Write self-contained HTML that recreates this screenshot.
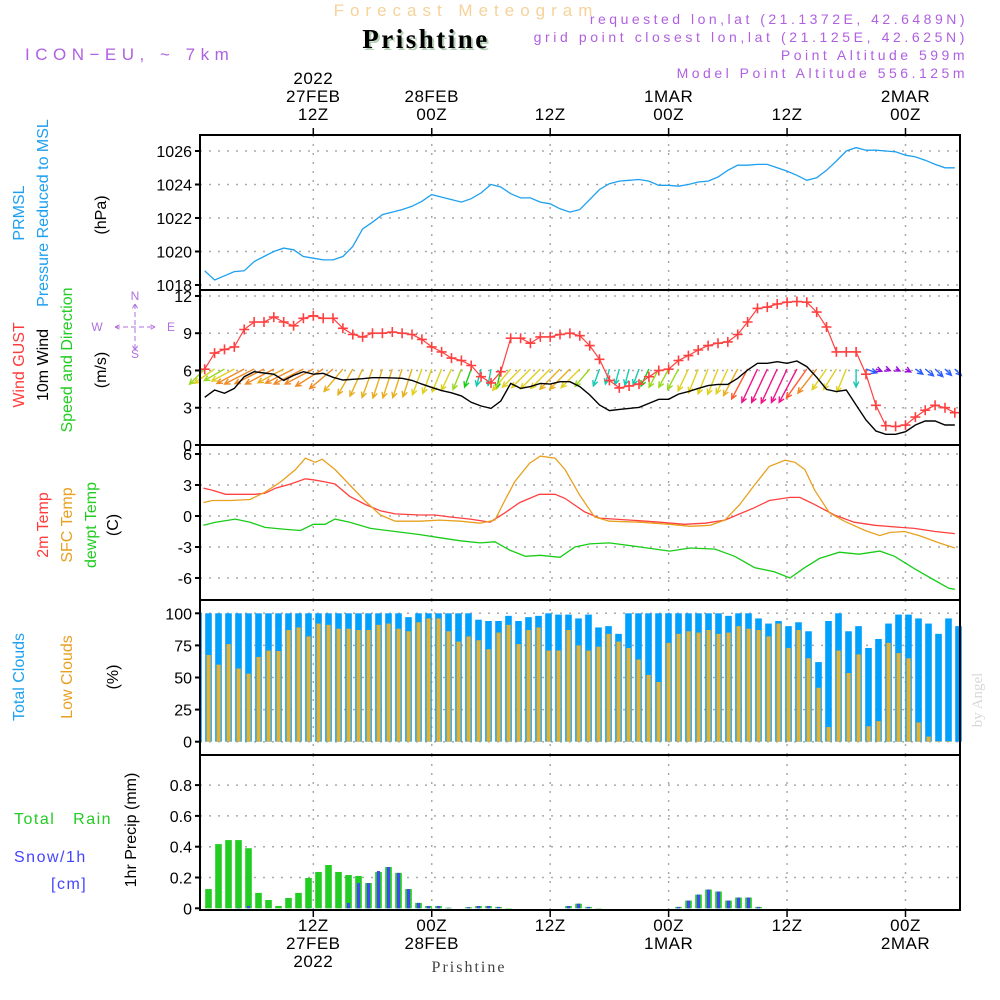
<!DOCTYPE html>
<html><head><meta charset="utf-8"><title>Meteogram Prishtine</title>
<style>
html,body{margin:0;padding:0;background:#fff;}
svg{display:block;font-family:"Liberation Sans",sans-serif;}
</style></head>
<body>
<svg id="chart" width="1000" height="1000" viewBox="0 0 1000 1000" xmlns="http://www.w3.org/2000/svg">
<rect x="0" y="0" width="1000" height="1000" fill="#fff"/>
<g>
<text x="466" y="16" text-anchor="middle" font-size="17" letter-spacing="6" fill="#f5d39a">Forecast Meteogram</text>
<text x="428" y="50" text-anchor="middle" font-size="27" font-weight="bold" letter-spacing="2.5" font-family="Liberation Serif,serif" fill="#b8d0b8">Prishtine</text>
<text x="426" y="48" text-anchor="middle" font-size="27" font-weight="bold" letter-spacing="2.5" font-family="Liberation Serif,serif" fill="#000">Prishtine</text>
<text x="25" y="60" font-size="17" letter-spacing="5.5" fill="#b060e0">ICON−EU, ~ 7km</text>
<text x="968" y="24" text-anchor="end" font-size="14" letter-spacing="3.5" fill="#b060e0">requested lon,lat (21.1372E, 42.6489N)</text>
<text x="968" y="42" text-anchor="end" font-size="14" letter-spacing="3.6" fill="#b060e0">grid point closest lon,lat (21.125E, 42.625N)</text>
<text x="968" y="60" text-anchor="end" font-size="14" letter-spacing="3.5" fill="#b060e0">Point Altitude 599m</text>
<text x="968" y="78" text-anchor="end" font-size="14" letter-spacing="3.5" fill="#b060e0">Model Point Altitude 556.125m</text>
</g>
<g id="grid"></g>
<g id="marks"></g>
<g id="frame"></g>
<g id="labels"></g>
<g font-size="16">
<text transform="translate(24,213) rotate(-90)" text-anchor="middle" fill="#1ea0f0">PRMSL</text>
<text transform="translate(48,213) rotate(-90)" text-anchor="middle" fill="#1ea0f0">Pressure Reduced to MSL</text>
<text transform="translate(106,215) rotate(-90)" text-anchor="middle" fill="#000">(hPa)</text>
<text transform="translate(24,365) rotate(-90)" text-anchor="middle" fill="#ff3b3b">Wind GUST</text>
<text transform="translate(48,365) rotate(-90)" text-anchor="middle" fill="#000">10m Wind</text>
<text transform="translate(72,360) rotate(-90)" text-anchor="middle" fill="#22cc22">Speed and Direction</text>
<text transform="translate(106,370) rotate(-90)" text-anchor="middle" fill="#000">(m/s)</text>
<g fill="#b070e0" font-size="12">
<text x="135" y="300" text-anchor="middle">N</text>
<text x="135" y="358" text-anchor="middle">S</text>
<text x="97" y="331" text-anchor="middle">W</text>
<text x="171" y="331" text-anchor="middle">E</text>
<path d="M115 327H155M115 327l6 -3M115 327l6 3M155 327l-6 -3M155 327l-6 3M135 304V350M135 304l-3 5M135 304l3 5M135 350l-3 -5M135 350l3 -5" stroke="#b070e0" stroke-dasharray="5 3" fill="none"/>
</g>
<text transform="translate(48,525) rotate(-90)" text-anchor="middle" fill="#ff3b3b">2m Temp</text>
<text transform="translate(72,525) rotate(-90)" text-anchor="middle" fill="#e8a020">SFC Temp</text>
<text transform="translate(96,525) rotate(-90)" text-anchor="middle" fill="#22cc22">dewpt Temp</text>
<text transform="translate(118,525) rotate(-90)" text-anchor="middle" fill="#000">(C)</text>
<text transform="translate(24,677) rotate(-90)" text-anchor="middle" fill="#1ea0f0">Total Clouds</text>
<text transform="translate(72,677) rotate(-90)" text-anchor="middle" fill="#e8a020">Low Clouds</text>
<text transform="translate(118,677) rotate(-90)" text-anchor="middle" fill="#000">(%)</text>
<text x="14" y="824" fill="#22cc22" letter-spacing="1.5">Total&#160;&#160;&#160;Rain</text>
<text x="14" y="862" fill="#4444ff" letter-spacing="1.5">Snow/1h</text>
<text x="51" y="889" fill="#4444ff" letter-spacing="1.5">[cm]</text>
<text transform="translate(136,830) rotate(-90)" text-anchor="middle" fill="#000">1hr Precip (mm)</text>
</g>
<text x="469" y="972" text-anchor="middle" font-size="16" letter-spacing="2" font-family="Liberation Serif,serif" fill="#444">Prishtine</text>
<text transform="translate(982,700) rotate(-90)" text-anchor="middle" font-size="15" font-family="Liberation Serif,serif" fill="#d8d8d8">by Angel</text>
</svg>
<script>
// ---------- data ----------
const pressHours = [1,2,3,4,5,6,7,8,9,10,11,12,13,14,15,16,17,18,19,20,21,22,23,24,25,26,27,28,29,30,31,32,33,34,35,36,37,38,39,40,41,42,43,44,45,46,47,48,49,50,51,52,53,54,55,56,57,58,59,60,61,62,63,64,65,66,67,68,69,70,71,72,73,74,75,76,77];
const pressure = [1018.85,1018.3,1018.55,1018.8,1018.85,1019.4,1019.7,1020.0,1020.2,1020.1,1019.7,1019.6,1019.5,1019.5,1019.7,1020.3,1021.35,1021.75,1022.2,1022.35,1022.5,1022.7,1023.0,1023.4,1023.25,1023.1,1022.95,1023.15,1023.5,1024.0,1023.85,1023.45,1023.2,1023.2,1022.95,1022.85,1022.55,1022.35,1022.5,1023.1,1023.7,1024.05,1024.2,1024.25,1024.3,1024.2,1023.95,1023.95,1023.9,1024.0,1024.15,1024.2,1024.45,1024.85,1025.15,1025.15,1025.2,1025.2,1025.0,1024.8,1024.55,1024.25,1024.4,1024.85,1025.4,1026.0,1026.2,1026.05,1026.05,1026.0,1025.95,1025.75,1025.65,1025.45,1025.2,1025.0,1025.0];
const gust = [6.1,7.4,7.7,7.9,9.3,9.9,9.9,10.3,9.9,9.6,10.2,10.4,10.2,10.2,9.4,8.9,8.7,9.0,9.0,9.1,9.0,8.9,8.5,7.9,7.5,7.0,6.8,6.4,5.5,5.0,5.9,8.6,8.6,8.2,8.7,8.7,8.9,9.0,8.8,8.0,6.9,5.2,4.6,4.75,4.9,5.5,6.0,6.1,6.8,7.2,7.65,8.0,8.2,8.3,8.9,9.9,11.0,11.1,11.35,11.5,11.55,11.5,10.7,9.5,7.5,7.5,7.5,5.7,3.2,1.55,1.5,1.6,2.25,2.8,3.2,3.0,2.6];
const wind = [3.84,4.43,4.16,4.56,5.5,5.9,5.8,5.7,5.2,5.6,5.9,5.7,5.77,5.45,5.23,5.29,5.34,5.42,5.42,5.4,5.37,5.2,4.9,4.64,4.38,4.2,3.95,3.44,3.14,2.95,3.54,4.96,4.56,4.7,4.96,4.9,5.1,5.1,4.7,4.03,3.22,2.77,2.87,2.95,3.03,3.35,3.68,3.68,4.1,4.3,4.56,4.78,4.88,4.88,5.37,6.04,6.58,6.58,6.71,6.58,6.76,6.31,5.45,4.48,4.3,4.43,3.22,2.01,1.13,0.86,0.86,1.07,1.61,1.93,1.93,1.61,1.61];
const windDir = [45,55,60,62,62,63,63,62,62,63,63,62,58,50,40,30,25,20,18,18,18,18,20,20,22,25,22,20,15,10,12,40,45,45,45,45,45,45,45,40,20,15,15,15,20,25,28,28,28,25,22,22,22,25,28,28,25,25,25,25,28,35,38,35,32,22,0,290,290,290,295,300,305,310,315,315,315];
const t2Hours = [0.87,1.78,3.1,6.1,7.1,8.2,9.7,11.2,12,13.2,14.2,15.7,17.3,18.8,20.3,22.8,24.3,25.9,27.9,29.9,31.4,32.9,34.9,36.5,37.5,39.5,41.0,44.1,47.1,49.6,51.7,53.7,55.2,56.7,58.2,60.3,61.3,62.8,64.8,66.8,68.9,71.5,72.9,75.0,77.0];
const temp2m = [2.7,2.5,2.1,2.1,2.2,2.7,3.1,3.6,3.5,3.3,3.1,1.9,1.1,0.5,0.2,0.1,0.1,-0.1,-0.3,-0.6,0.3,1.3,2.1,2.1,1.7,0.4,-0.2,-0.4,-0.6,-0.8,-0.7,-0.4,0.2,0.8,1.5,1.8,1.8,1.1,0.1,-0.6,-0.9,-1.1,-1.2,-1.5,-1.7];
const sfcHours = [0.87,1.78,3.6,5.6,7.1,8.7,10.2,11.2,12.2,12.9,14.2,15.7,17.3,18.8,20.3,22.8,24.8,26.9,28.9,30.4,31.4,32.4,33.9,35.0,36.5,37.5,39.0,40.5,42.0,45.1,48.1,50.2,52.2,53.7,55.2,56.7,58.2,59.8,60.8,61.8,62.8,64.3,65.8,67.9,69.4,70.4,71.9,73.4,75.4,77.0];
const tempSfc = [1.3,1.5,1.5,1.6,2.3,3.3,4.5,5.6,5.2,5.5,4.5,3.0,1.4,0.1,-0.5,-0.5,-0.4,-0.5,-0.7,-0.4,1.5,3.3,5.1,5.8,5.6,4.5,2.0,-0.1,-0.5,-0.6,-0.8,-1.0,-0.9,-0.4,1.1,3.0,4.8,5.4,5.2,4.5,2.5,0.3,-0.5,-1.4,-1.9,-1.6,-1.5,-1.9,-2.6,-3.1];
const dewHours = [0.87,2.1,4.1,5.6,7.1,9.2,10.7,12.0,13.2,14.2,15.7,17.8,20.3,22.8,24.8,26.9,28.9,30.4,31.9,33.5,35.0,37.0,38.5,40.0,42.0,45.1,48.1,50.2,52.7,54.7,56.7,58.7,60.3,61.8,63.3,65.3,67.3,69.4,70.9,72.9,74.9,76.4,77.0];
const dewpt = [-0.9,-0.6,-0.3,-0.6,-1.1,-1.3,-1.4,-0.8,-0.8,-0.3,-0.6,-1.2,-1.5,-1.8,-2.1,-2.4,-2.6,-2.5,-3.3,-3.9,-3.8,-4.0,-3.0,-2.7,-2.6,-3.0,-3.4,-3.1,-3.2,-3.9,-5.0,-5.4,-6.0,-5.0,-4.1,-3.5,-3.7,-3.4,-3.9,-5.1,-6.2,-7.0,-7.1];
const totalClouds = [100,100,100,100,100,100,100,100,100,100,100,100,100,100,100,100,100,100,100,100,100,97,100,100,100,100,100,100,95,94,94,98,94,97,98,100,99,99,96,99,89,90,84,100,100,100,100,100,100,100,100,100,100,98,100,100,96,92,94,90,93,86,62,94,100,86,90,73,80,92,99,99,96,92,84,96,90];
const lowClouds = [54.5,67.5,60,76,57,53,66,71,70.6,87,89,82,92,91,88,88,87,87,91,92,88,86,93,96,96,86,78,82,79,72,85,91,76,87,89,71,71,87,75,71,74,84,78,73,64,52,46.5,77,84,86,85,87,84,85,90,88,87,82,92,73,87,65,42,11.4,71,53.5,68,12,16,77,69,65,15,4,0.5,0.5,0];
const rain = [0,0.125,0.417,0.443,0.443,0.39,0.10,0.054,0.015,0.067,0.10,0.197,0.236,0.281,0.236,0.216,0.21,0.164,0.236,0.268,0.23,0.125,0.035,0.015,0.015,0.004,0,0.007,0.015,0.015,0.009,0.002,0,0,0,0,0,0.015,0.03,0.009,0.002,0,0,0,0,0,0,0,0.009,0.05,0.089,0.122,0.109,0.05,0.07,0.07,0.009,0,0,0,0,0,0,0,0,0,0,0,0,0,0,0,0,0,0,0,0];
const snow = [0,0,0,0,0.003,0.015,0,0,0,0,0,0.003,0,0,0,0.035,0.164,0.164,0.242,0.268,0.23,0.125,0.035,0.015,0.015,0.003,0,0.007,0.015,0.015,0.009,0,0,0,0,0,0,0.015,0.03,0.009,0,0,0,0,0,0,0,0,0.009,0.05,0.089,0.122,0.109,0.05,0.07,0.07,0.009,0,0,0,0,0,0,0,0,0,0,0,0,0,0,0,0,0,0,0,0];
const pressTicks = [1018,1020,1022,1024,1026];
const windTicks = [0,3,6,9,12];
const tempTicks = [-6,-3,0,3,6];
const cloudTicks = [0,25,50,75,100];
const precipTicks = ["0","0.2","0.4","0.6","0.8"];
const timeTickHours = [12,24,36,48,60,72];
const timeTopLabels = [["2022","27FEB","12Z"],["28FEB","00Z"],["12Z"],["1MAR","00Z"],["12Z"],["2MAR","00Z"]];
const timeBottomLabels = [["12Z","27FEB","2022"],["00Z","28FEB"],["12Z"],["00Z","1MAR"],["12Z"],["00Z","2MAR"]];

// ---------- axes ----------
const NS="http://www.w3.org/2000/svg";
const X0=200, X1=960;
const xT = h => 313.3 + (h-12)*9.87;
const xBar = i => 198.5 + i*10.0;
const yP = p => 151 + (1026-p)*16.75;
const yW = v => 445 - v*12.42;
const yT = t => 516 - t*10.33;
const yC = c => 741.7 - c*1.284;
const yR = r => 908.3 - r*154;
function mk(tag, attrs, parent){const e=document.createElementNS(NS,tag);for(const k in attrs)e.setAttribute(k,attrs[k]);parent.appendChild(e);return e;}
const G=document.getElementById('grid'), M=document.getElementById('marks'), F=document.getElementById('frame'), L=document.getElementById('labels');
const panels=[{t:135,b:290,ticks:pressTicks,y:yP},{t:290,b:445,ticks:windTicks,y:yW},{t:445,b:600,ticks:tempTicks,y:yT},{t:600,b:755,ticks:cloudTicks,y:yC},{t:755,b:910,ticks:precipTicks.map(Number),y:yR,lab:precipTicks}];
panels.forEach((p,pi)=>{
  timeTickHours.forEach(h=>{
    const l=mk('line',{x1:xT(h),x2:xT(h),y1:p.t,y2:p.b,stroke:'#aaa','stroke-width':1.5,'stroke-dasharray':'2 7'},G);
    
    
  });
  p.ticks.forEach((v,i)=>{
    const y=p.y(v);
    if(y>p.t+3&&y<p.b-3){
      const l=mk('line',{x1:X0,x2:X1,y1:y,y2:y,stroke:'#aaa','stroke-width':1.5,'stroke-dasharray':'2 7'},G);
      
      
    }
    const tk=mk('line',{x1:X0-5,x2:X0,y1:y,y2:y,stroke:'#000','stroke-width':2},F);
    
    
    const tx=mk('text',{x:X0-8,y:y+6,'text-anchor':'end','font-size':16,fill:'#000'},L);
    
    
    tx.textContent=p.lab?p.lab[i]:String(v);
  });
});
// frame
const fr=mk('rect',{x:X0,y:135,width:X1-X0,height:775,fill:'none',stroke:'#000','stroke-width':2},F);


[290,445,600,755].forEach(y=>{
  const l=mk('line',{x1:X0,x2:X1,y1:y,y2:y,stroke:'#000','stroke-width':2},F);
  
  
});
// time labels
timeTickHours.forEach((h,i)=>{
  const x=xT(h);
  mk('line',{x1:x,x2:x,y1:128,y2:135,stroke:'#000','stroke-width':1.5},F);
  mk('line',{x1:x,x2:x,y1:910,y2:917,stroke:'#000','stroke-width':1.5},F);
  const top=timeTopLabels[i];
  top.forEach((s,j)=>{
    const t=mk('text',{x:x,y:128-8-(top.length-1-j)*18,'text-anchor':'middle','font-size':17,fill:'#000','letter-spacing':'0.5'},L);
    
    
    t.textContent=s;
  });
  timeBottomLabels[i].forEach((s,j)=>{
    const t=mk('text',{x:x,y:931+j*18,'text-anchor':'middle','font-size':17,fill:'#000','letter-spacing':'0.5'},L);
    
    
    t.textContent=s;
  });
});
function poly(hs, vs, xf, yf, color, name, w){
  const pts=hs.map((h,i)=>xf(h).toFixed(1)+','+yf(vs[i]).toFixed(1)).join(' ');
  const e=mk('polyline',{points:pts,fill:'none',stroke:color,'stroke-width':w||1.3},M);
  
  
  return e;
}
// pressure
poly(pressHours,pressure,xT,yP,'#1ea0f0','pressure-line');
// wind arrows
function windColor(s){
  if(s<1.5)return '#9a10d8';if(s<2.5)return '#2a5cff';if(s<3.3)return '#18c8b0';if(s<3.6)return '#18cc18';
  if(s<4.2)return '#9ad820';if(s<5.0)return '#e0d020';if(s<5.45)return '#e8b020';if(s<6.0)return '#f08a24';if(s<6.4)return '#ff5a30';return '#f0128a';
}
windDir.forEach((d,i)=>{
  const h=pressHours[i], s=wind[i];
  const x=xT(h), y=369, len=s*5.6, r=d*Math.PI/180;
  const dx=-Math.sin(r)*len, dy=Math.cos(r)*len;
  const hx=x+dx, hy=y+dy, a=Math.atan2(dy,dx), hl=6;
  const c=windColor(s);
  const p=`M${x.toFixed(1)} ${y}L${hx.toFixed(1)} ${hy.toFixed(1)}M${(hx-hl*Math.cos(a-0.45)).toFixed(1)} ${(hy-hl*Math.sin(a-0.45)).toFixed(1)}L${hx.toFixed(1)} ${hy.toFixed(1)}L${(hx-hl*Math.cos(a+0.45)).toFixed(1)} ${(hy-hl*Math.sin(a+0.45)).toFixed(1)}`;
  const e=mk('path',{d:p,stroke:c,'stroke-width':1.4,fill:'none'},M);
  
  
});
poly(pressHours,wind,xT,yW,'#000','wind-speed-line',1.4);
poly(pressHours,gust,xT,yW,'#ff4040','gust-line',1.2);
gust.forEach((g,i)=>{
  const x=xT(pressHours[i]), y=yW(g);
  const e=mk('path',{d:`M${(x-5).toFixed(1)} ${y.toFixed(1)}h10M${x.toFixed(1)} ${(y-5).toFixed(1)}v10`,stroke:'#ff4040','stroke-width':1.6},M);
  
  
});
// temperatures
poly(t2Hours,temp2m,xT,yT,'#ff4040','temp-2m-line');
poly(sfcHours,tempSfc,xT,yT,'#e8a020','temp-sfc-line');
poly(dewHours,dewpt,xT,yT,'#18cc18','dewpoint-line');
// clouds
totalClouds.forEach((c,i)=>{
  const x=xBar(i), y=yC(c);
  const e=mk('rect',{x:Math.max(X0,x-3.3),y:y,width:Math.min(6.6,x+3.3-X0),height:yC(0)-y,fill:'#00a0ff'},M);
  
  
});
lowClouds.forEach((c,i)=>{
  const x=xBar(i), y=yC(c);
  const e=mk('rect',{x:Math.max(X0,x-2),y:y,width:Math.min(4.2,x+2.2-X0),height:yC(0)-y,fill:'#e8b030'},M);
  
  
});
// precip
rain.forEach((r,i)=>{
  if(r<=0)return;
  const x=xBar(i), y=yR(r);
  const e=mk('rect',{x:x-3.3,y:y,width:6.6,height:yR(0)-y,fill:'#22cc22'},M);
  
  
});
snow.forEach((s,i)=>{
  if(s<=0)return;
  const x=xBar(i), y=yR(s);
  const e=mk('rect',{x:x-1.5,y:y,width:3,height:yR(0)-y,fill:'#4444ff'},M);
  
  
});
</script>
</body></html>
